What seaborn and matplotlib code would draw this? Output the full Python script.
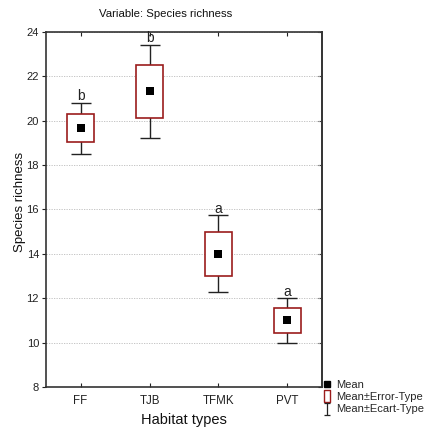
import matplotlib
matplotlib.use("Agg")
import matplotlib.pyplot as plt
import seaborn as sns
import pandas as pd
from matplotlib.lines import Line2D
from matplotlib.path import Path

categories = ["FF", "TJB", "TFMK", "PVT"]
means = [19.67, 21.33, 14.0, 11.0]
se = [0.65, 1.2, 1.0, 0.58]
sd = [1.15, 2.1, 1.73, 1.0]
letters = ["b", "b", "a", "a"]
yticks = [8, 10, 12, 14, 16, 18, 20, 22, 24]

sns.set_theme(style="white")
plt.rcParams['font.family'] = ['Liberation Sans', 'DejaVu Sans']

df = pd.DataFrame({"Habitat": categories, "mean": means, "se": se, "sd": sd})

fig = plt.figure(figsize=(4.28, 4.34), dpi=100)
ax = fig.add_axes([0.1075, 0.1083, 0.6448, 0.818])

xs = list(range(len(categories)))
# whiskers (mean ± SD)
ax.errorbar(xs, df["mean"], yerr=df["sd"], fmt="none", ecolor="#222222",
            elinewidth=1.0, capsize=7.5, capthick=1.0, zorder=2)
# boxes (mean ± SE)
ax.bar(xs, 2 * df["se"], bottom=df["mean"] - df["se"], width=0.4,
       facecolor="white", edgecolor="#9b1c1c", linewidth=1.2, zorder=3)
# means
sns.scatterplot(x=xs, y=df["mean"], marker="s", color="black", s=28,
                edgecolor="black", linewidth=0, ax=ax, zorder=4)

for x, m, s, l in zip(xs, means, sd, letters):
    ax.text(x, m + s - 0.02, l, ha="center", va="bottom", fontsize=10, color="#222222")

ax.set_xlim(-0.5, 3.5)
ax.set_ylim(8, 24)
ax.set_yticks(yticks)
ax.set_yticklabels([str(t) for t in yticks], fontsize=8)
ax.set_xticks(xs)
ax.set_xticklabels(categories, fontsize=8.3)
ax.yaxis.grid(True, linestyle=(0, (1.5, 1.5)), color="#bbbbbb", linewidth=0.6)
ax.set_axisbelow(True)

ax.tick_params(axis="y", which="both", direction="out", length=3, width=0.8,
               left=True, right=False, colors="#222222", pad=2)
ax.tick_params(axis="x", direction="in", length=3, width=0.8, top=True, bottom=True,
               colors="#222222", pad=6)
sec = ax.secondary_yaxis("right")
sec.set_yticks(yticks)
sec.tick_params(direction="in", length=3, width=0.8, colors="#222222", labelright=False)
sec.spines["right"].set_color("#333333")
sec.spines["right"].set_linewidth(1.2)
for sp in ax.spines.values():
    sp.set_color("#333333")
    sp.set_linewidth(1.2)

ax.set_xlabel("Habitat types", fontsize=10.5, labelpad=4, color="#111111")
ax.set_ylabel("Species richness", fontsize=9.5, labelpad=2, color="#111111")
ax.yaxis.set_label_coords(-0.074, 0.52)

fig.text(166 / 428, 1 - 14 / 434, "Variable: Species richness", ha="center", va="center",
         fontsize=8.2, color="#111111")

rect_marker = [(-0.45, -1), (0.45, -1), (0.45, 1), (-0.45, 1), (-0.45, -1)]
M, L = Path.MOVETO, Path.LINETO
i_marker = Path([(-0.55, 1), (0.55, 1), (0, 1), (0, -1), (-0.55, -1), (0.55, -1)],
                [M, L, M, L, M, L])
h_mean = Line2D([], [], marker="s", color="black", linestyle="none", markersize=4.5)
h_box = Line2D([], [], marker=rect_marker, markerfacecolor="white",
               markeredgecolor="#9b1c1c", linestyle="none", markersize=9, markeredgewidth=1.0)
h_sd = Line2D([], [], marker=i_marker, color="#222222", markeredgecolor="#222222",
              linestyle="none", markersize=8, markeredgewidth=0.9)
fig.legend([h_mean, h_box, h_sd], ["Mean", "Mean±Error-Type", "Mean±Ecart-Type"],
           loc="upper left", bbox_to_anchor=(322 / 428, 1 - 380 / 434),
           frameon=False, fontsize=8, handlelength=0.9, handletextpad=0.35,
           labelspacing=0.2, borderaxespad=0, borderpad=0)

fig.savefig("out.png", dpi=100)
